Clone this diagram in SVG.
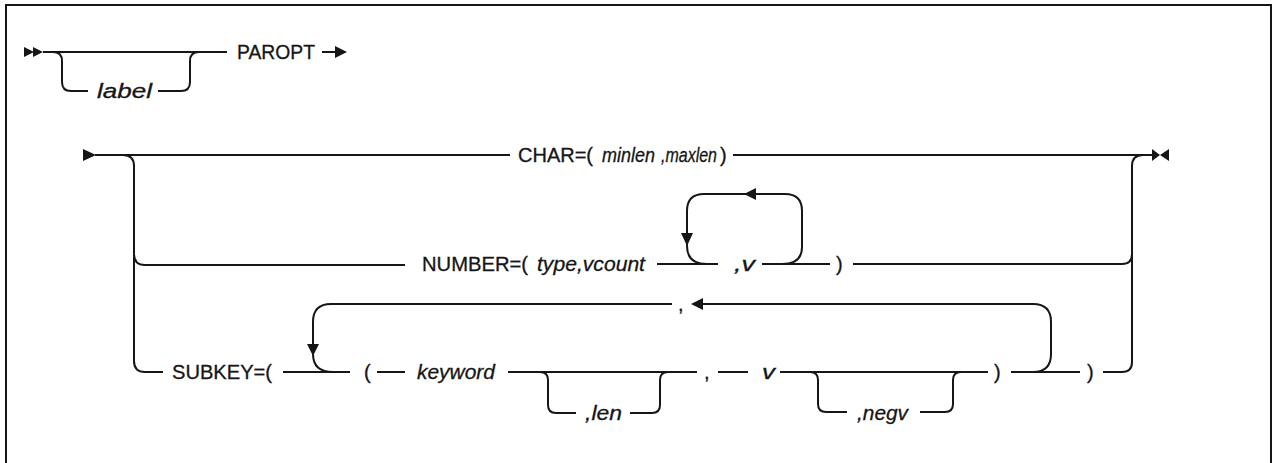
<svg xmlns="http://www.w3.org/2000/svg" width="1273" height="463" viewBox="0 0 1273 463">
  <style>
    .ln { fill: none; stroke: #161616; stroke-width: 2; }
    .ah { fill: #161616; stroke: none; }
    text { font-family: "Liberation Sans", Arial, sans-serif; font-size: 20px; fill: #161616; stroke: #161616; stroke-width: 0.3; }
    .it { font-style: italic; }
  </style>
  <rect x="0" y="0" width="1273" height="463" fill="#ffffff"/>
  <!-- frame (open at the bottom) -->
  <path class="ln" d="M6 470 L6 5 L1271 5 L1271 470"/>

  <!-- statement name: optional label, then PAROPT -->
  <g id="start-1">
    <path class="ah" d="M24 47 L34 52 L24 57 Z M33 47 L43 52 L33 57 Z"/>
  </g>
  <g id="label">
    <text class="it" x="97" y="98" textLength="55" lengthAdjust="spacingAndGlyphs">label</text>
  </g>
  <g id="paropt">
    <text x="237" y="59" textLength="78" lengthAdjust="spacingAndGlyphs">PAROPT</text>
  </g>

  <!-- operand block -->
  <g id="start-2">
    <path class="ah" d="M83 149 L96 155 L83 161 Z"/>
  </g>
  <g id="char">
    <text x="518" y="162" textLength="75" lengthAdjust="spacingAndGlyphs">CHAR=(</text>
    <text class="it" x="602" y="162" textLength="53" lengthAdjust="spacingAndGlyphs">minlen</text>
    <text class="it" x="661" y="162" textLength="56" lengthAdjust="spacingAndGlyphs">,maxlen</text>
    <text x="720" y="162">)</text>
  </g>
  <g id="number">
    <text x="422" y="271" textLength="106" lengthAdjust="spacingAndGlyphs">NUMBER=(</text>
    <text class="it" x="537" y="271" textLength="108" lengthAdjust="spacingAndGlyphs">type,vcount</text>
    <text class="it" x="734" y="271" textLength="21" lengthAdjust="spacingAndGlyphs">,v</text>
    <text x="836" y="271">)</text>
  </g>
  <g id="subkey">
    <text x="172" y="379" textLength="100" lengthAdjust="spacingAndGlyphs">SUBKEY=(</text>
    <text x="364" y="379">(</text>
    <text class="it" x="417" y="379" textLength="78" lengthAdjust="spacingAndGlyphs">keyword</text>
    <text class="it" x="585" y="420" textLength="37" lengthAdjust="spacingAndGlyphs">,len</text>
    <text x="704" y="379">,</text>
    <text class="it" x="762" y="379" textLength="13" lengthAdjust="spacingAndGlyphs">v</text>
    <text class="it" x="857" y="420" textLength="51" lengthAdjust="spacingAndGlyphs">,negv</text>
    <text x="994" y="379">)</text>
    <text x="678" y="311">,</text>
    <text x="1087" y="379">)</text>
  </g>
  <g id="end">
    <path class="ah" d="M1152 149 L1160 155 L1152 161 Z M1169 149 L1160 155 L1169 161 Z"/>
  </g>

  <g id="connectors">
    <!-- row 1 -->
    <path class="ln" d="M43 52 L227 52"/>
    <path class="ln" d="M53 52 Q62 52 62 61 L62 82 Q62 91 71 91 L88 91"/>
    <path class="ln" d="M158 91 L181 91 Q190 91 190 82 L190 61 Q190 52 199 52"/>
    <path class="ln" d="M322 52 L335 52"/>
    <path class="ah" d="M335 46 L347 52 L335 58 Z"/>

    <!-- row 2: main line through CHAR -->
    <path class="ln" d="M95 155 L510 155"/>
    <path class="ln" d="M733 155 L1152 155"/>
    <!-- left rail -->
    <path class="ln" d="M123 155 Q134 155 134 166 L134 361 Q134 372 145 372 L163 372"/>
    <path class="ln" d="M134 254 Q134 265 145 265 L405 265"/>
    <!-- right rail -->
    <path class="ln" d="M1143 155 Q1132 155 1132 166 L1132 362 Q1132 372 1122 372 L1103 372"/>
    <path class="ln" d="M853 264 L1122 264 Q1132 264 1132 254"/>

    <!-- NUMBER repeat loop -->
    <path class="ln" d="M657 264 L718 264"/>
    <path class="ln" d="M762 264 L830 264"/>
    <path class="ln" d="M707 264 Q687 264 687 246 L687 211 Q687 194 704 194 L785 194 Q802 194 802 211 L802 247 Q802 264 782 264"/>
    <path class="ah" d="M744 194 L756 188 L756 200 Z"/>
    <path class="ah" d="M687 246 L681 233 L693 233 Z"/>

    <!-- SUBKEY row -->
    <path class="ln" d="M283 372 L350 372"/>
    <path class="ln" d="M377 372 L405 372"/>
    <path class="ln" d="M508 372 L697 372"/>
    <path class="ln" d="M718 372 L748 372"/>
    <path class="ln" d="M780 372 L988 372"/>
    <path class="ln" d="M1011 372 L1080 372"/>
    <!-- optional ,len -->
    <path class="ln" d="M540 372 Q548 372 548 380 L548 405 Q548 413 556 413 L576 413"/>
    <path class="ln" d="M630 413 L652 413 Q660 413 660 405 L660 380 Q660 372 668 372"/>
    <!-- optional ,negv -->
    <path class="ln" d="M810 372 Q818 372 818 380 L818 404 Q818 412 826 412 L847 412"/>
    <path class="ln" d="M920 412 L945 412 Q953 412 953 404 L953 380 Q953 372 961 372"/>
    <!-- repeat loop with comma separator -->
    <path class="ln" d="M333 372 Q313 372 313 354 L313 322 Q313 304 331 304 L672 304"/>
    <path class="ln" d="M703 304 L1033 304 Q1051 304 1051 322 L1051 354 Q1051 372 1033 372"/>
    <path class="ah" d="M691 304 L703 298 L703 310 Z"/>
    <path class="ah" d="M313 356 L307 344 L319 344 Z"/>
  </g>
</svg>
